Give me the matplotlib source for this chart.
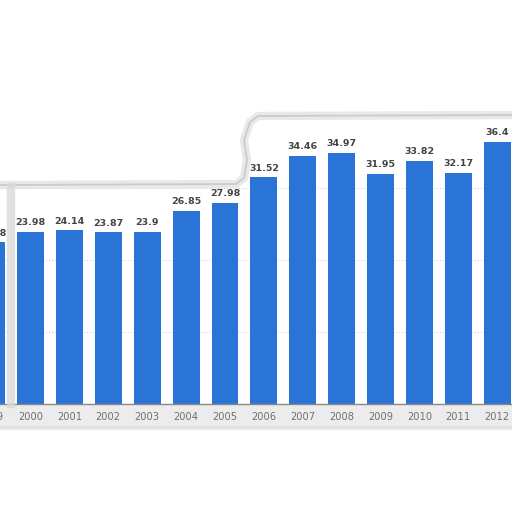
import numpy as np
import matplotlib
matplotlib.use("Agg")
import matplotlib.pyplot as plt
from matplotlib.lines import Line2D
from matplotlib.patches import Rectangle

years = ["1999", "2000", "2001", "2002", "2003", "2004", "2005",
         "2006", "2007", "2008", "2009", "2010", "2011", "2012"]
values = [22.48, 23.98, 24.14, 23.87, 23.9, 26.85, 27.98,
          31.52, 34.46, 34.97, 31.95, 33.82, 32.17, 36.4]
labels = ["22.48", "23.98", "24.14", "23.87", "23.9", "26.85", "27.98",
          "31.52", "34.46", "34.97", "31.95", "33.82", "32.17", "36.4"]

W = 512.0
step = 38.9          # px per category
first_px = -8.4      # centre of the 1999 bar, px from the left edge
x_lo, x_hi = -0.6, 13.6

fig = plt.figure(figsize=(5.12, 5.12), dpi=100)
fig.patch.set_facecolor("white")

# soft gray strip behind the year labels (cut-out shadow)
fig.add_artist(Rectangle((0, 1 - 428 / W), 1, 23 / W, transform=fig.transFigure,
                         facecolor="#e6e6e6", edgecolor="none", alpha=0.75, zorder=0))
fig.add_artist(Line2D([0, 1], [1 - 428 / W, 1 - 428 / W], transform=fig.transFigure,
                      color="#d8d8d8", lw=3, alpha=0.6, zorder=0))

# the axes is wider than the figure, so the 1999 and 2012 bars are cut off
left_px = first_px + x_lo * step
width_px = (x_hi - x_lo) * step
ax = fig.add_axes([left_px / W, 1 - 404 / W, width_px / W, 404 / W])
ax.set_facecolor("none")

x = np.arange(len(years))
ax.bar(x, values, width=0.694, color="#2a74d8", zorder=2)

for xi, v, lab in zip(x, values, labels):
    ax.annotate(lab, (xi, v), xytext=(0, 3.5), textcoords="offset points",
                ha="center", va="bottom", fontsize=6.8, fontweight="bold",
                color="#444444")

ax.set_xticks(x)
ax.set_xticklabels(years, fontsize=7.1, color="#707070")
ax.tick_params(axis="x", length=0, pad=6)
ax.set_yticks([10, 20, 30])
ax.tick_params(axis="y", length=0, labelleft=False)
ax.set_xlim(x_lo, x_hi)
ax.set_ylim(0, 56.2)
ax.yaxis.grid(True, linestyle=(0, (1, 2)), color="#c8c8c8", lw=0.7, zorder=0)
ax.set_axisbelow(True)
for s in ["top", "right", "left"]:
    ax.spines[s].set_visible(False)
ax.spines["bottom"].set_color("#888888")
ax.spines["bottom"].set_linewidth(1.0)

# stepped cut-out border at the top
bx = [0, 236, 244, 247, 244, 250, 258, 512]
by = [185, 184, 178, 160, 140, 122, 116, 115]
fx = [p / W for p in bx]
fy = [1 - p / W for p in by]
fig.add_artist(Line2D(fx, fy, transform=fig.transFigure, color="#e4e4e4",
                      lw=6, alpha=0.8, solid_capstyle="round", zorder=1))
fig.add_artist(Line2D(fx, fy, transform=fig.transFigure, color="#c8c8c8",
                      lw=1.3, alpha=0.9, zorder=1))
# left shadow edge
fig.add_artist(Line2D([11 / W, 11 / W], [1 - 187 / W, 1 - 404 / W],
                      transform=fig.transFigure, color="#d9d9d9", lw=6,
                      alpha=0.8, zorder=1))

fig.savefig("out.png", dpi=100, facecolor="white")
